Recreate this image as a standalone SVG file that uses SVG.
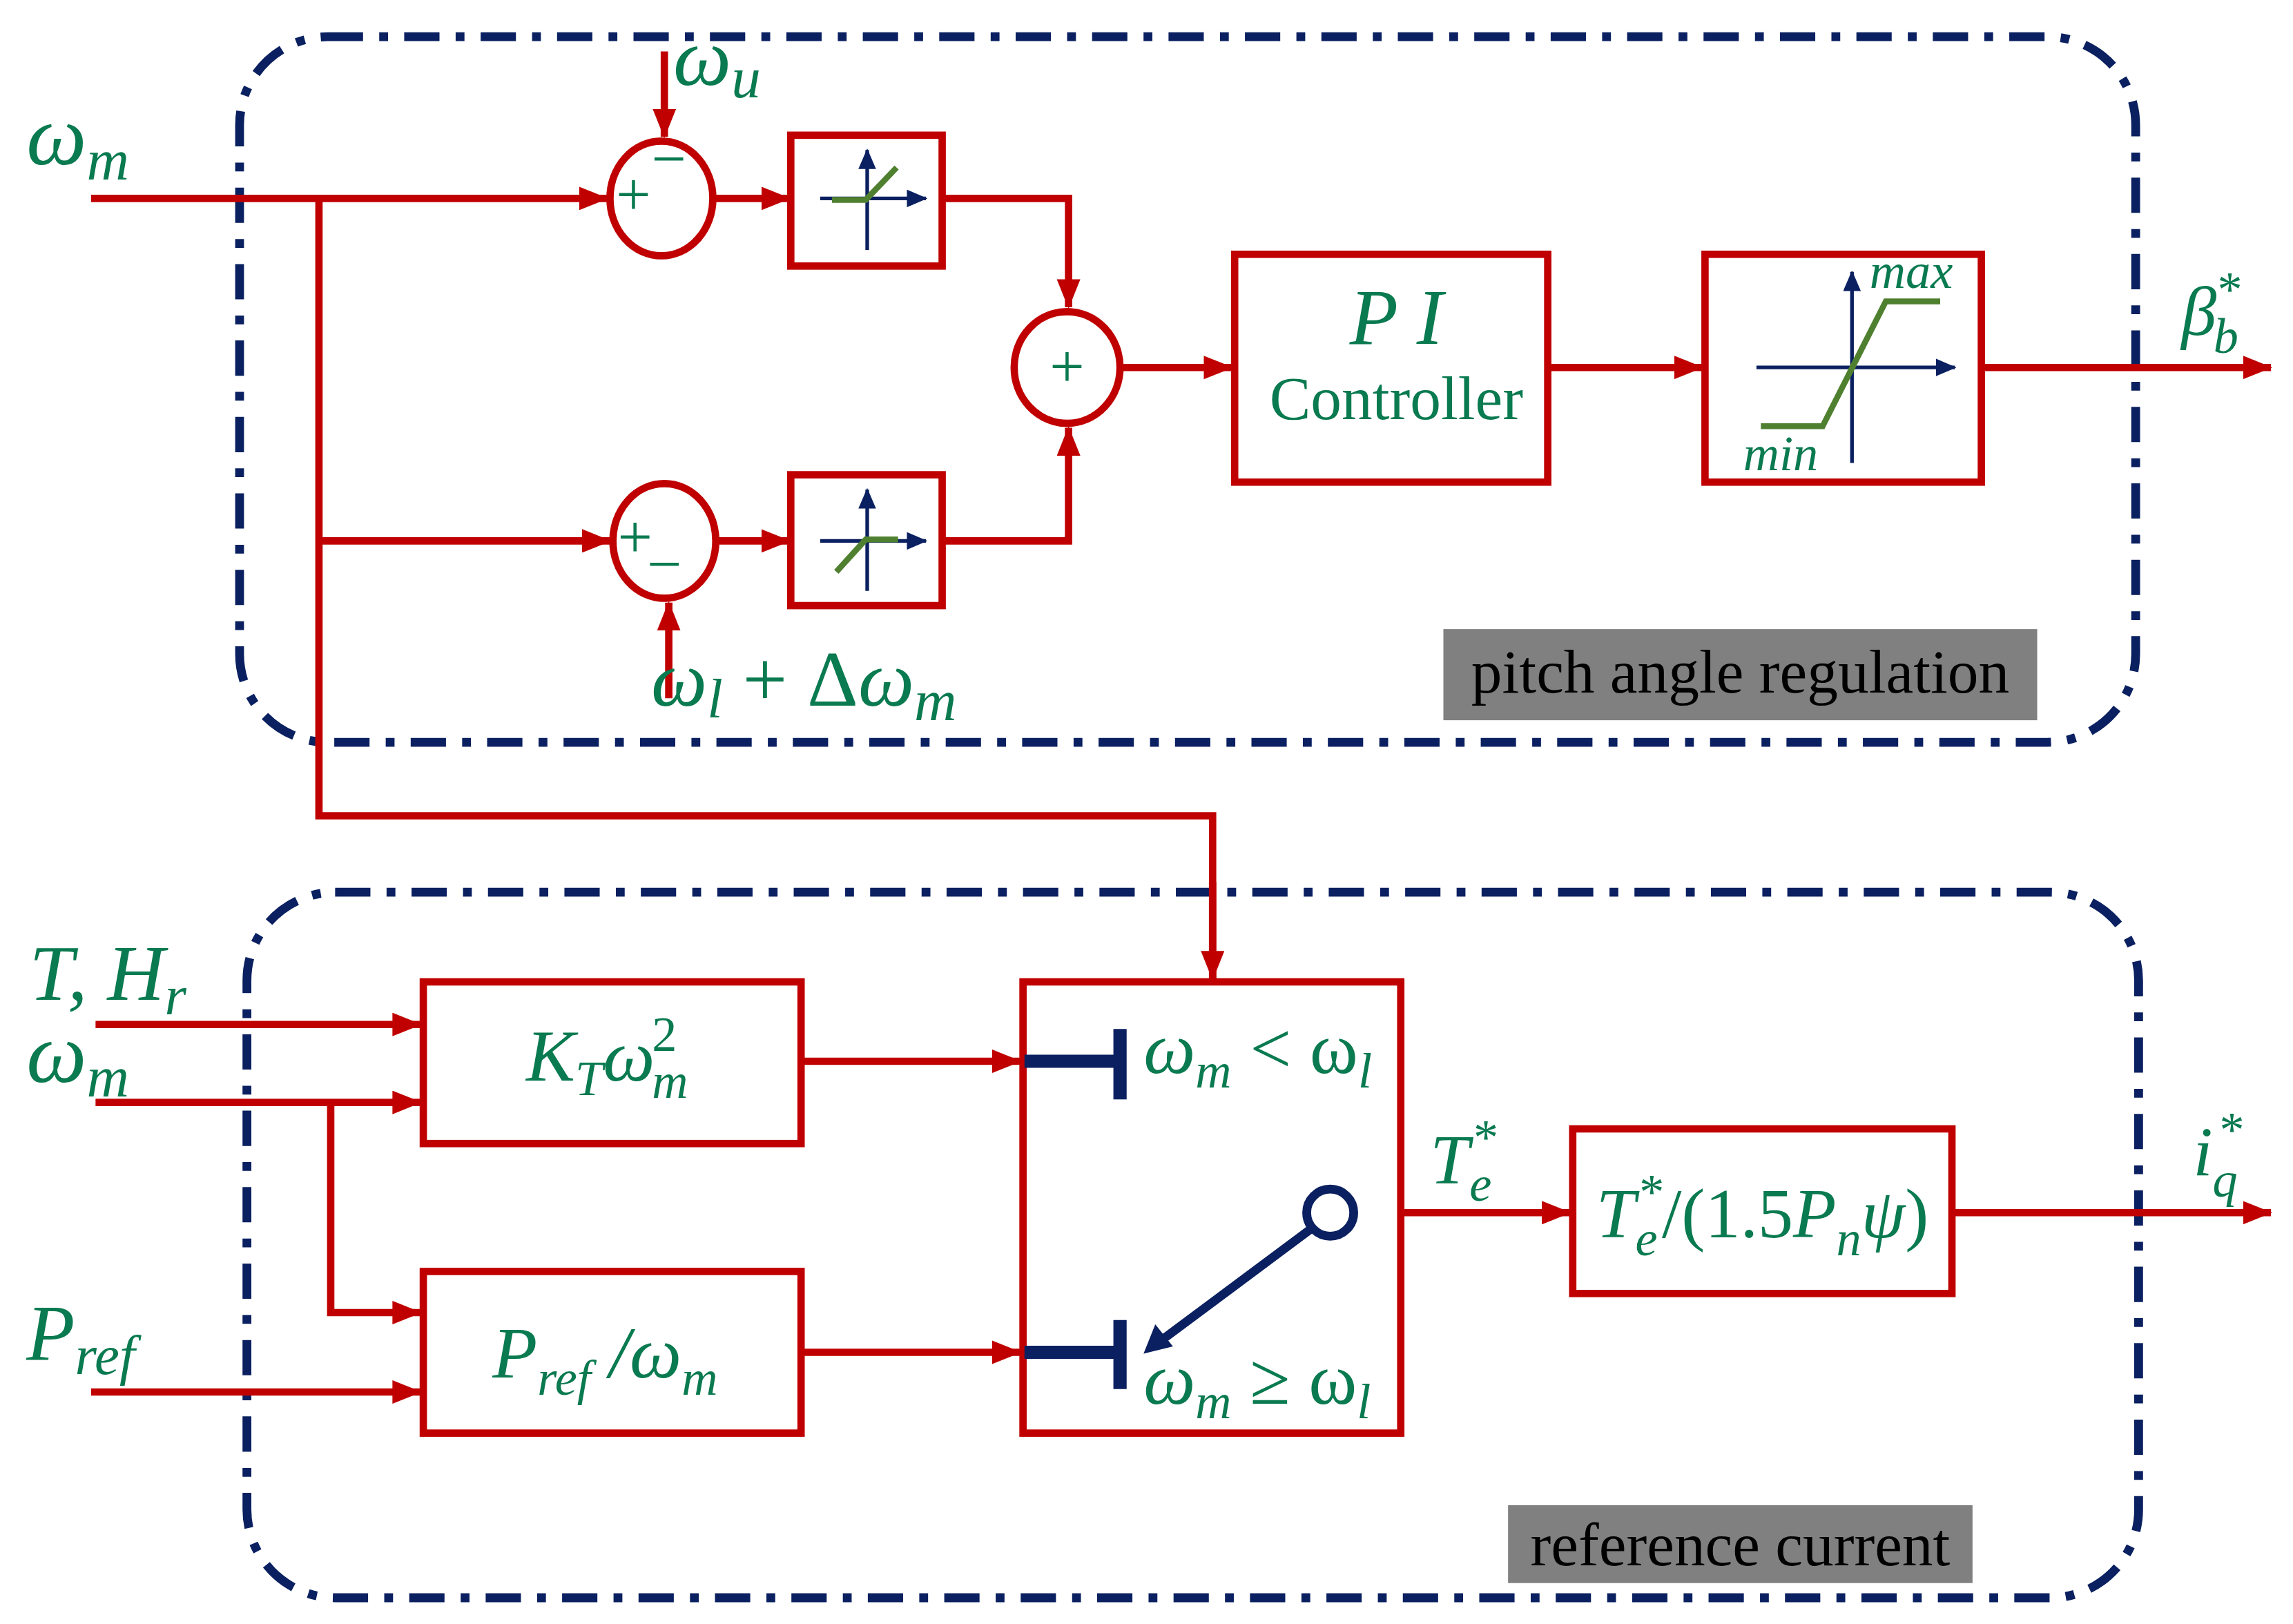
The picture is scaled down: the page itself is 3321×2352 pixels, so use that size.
<svg xmlns="http://www.w3.org/2000/svg" width="3321" height="2352" viewBox="0 0 3321 2352">
<style>
.reg{fill:none;stroke:#0a2060;stroke-width:6;stroke-dasharray:24 11 6 11}
.w{fill:none;stroke:#c00000;stroke-width:5}
.blk{fill:#fff;stroke:#c00000;stroke-width:5}
.ax{fill:none;stroke:#0a2060;stroke-width:2.5}
.gr{fill:none;stroke:#4f8030;stroke-width:4}
.m{font-family:"Liberation Serif",serif;font-style:italic;fill:#0a7a50}
.r{font-family:"Liberation Serif",serif;fill:#0a7a50}
.lab{font-family:"Liberation Serif",serif;fill:#000;font-size:42px}
.nv{fill:none;stroke:#0a2060;stroke-width:9}
</style>
<defs>
<marker id="a" markerUnits="userSpaceOnUse" markerWidth="20" markerHeight="16" refX="19" refY="8" orient="auto"><path d="M0,0 L20,8 L0,16 Z" fill="#c00000"/></marker>
<marker id="n" markerUnits="userSpaceOnUse" markerWidth="14" markerHeight="12" refX="13" refY="6" orient="auto"><path d="M0,0 L14,6 L0,12 Z" fill="#0a2060"/></marker>
</defs>
<rect width="3321" height="2352" fill="#fff"/>
<g transform="scale(2.1288)">
<g id="regions">
<rect class="reg" x="163" y="25" width="1290" height="480" rx="60"/>
<rect class="reg" x="168" y="607" width="1287" height="480" rx="60"/>
<rect x="982" y="428" width="404" height="62" fill="#808080"/>
<text class="lab" x="1184" y="471" text-anchor="middle">pitch angle regulation</text>
<rect x="1026" y="1024" width="316" height="53" fill="#808080"/>
<text class="lab" x="1184" y="1065" text-anchor="middle">reference current</text>
</g>
<g id="connectors">
<path class="w" d="M62,135 H413" marker-end="url(#a)"/>
<path class="w" d="M452,35 V93" marker-end="url(#a)"/>
<path class="w" d="M486,135 H537" marker-end="url(#a)"/>
<path class="w" d="M641,135 H727 V209" marker-end="url(#a)"/>
<path class="w" d="M217,135 V555 H825 V666"/>
<path class="w" d="M825,600 V666" marker-end="url(#a)"/>
<path class="w" d="M217,368 H415" marker-end="url(#a)"/>
<path class="w" d="M455,475 V410" marker-end="url(#a)"/>
<path class="w" d="M488,368 H537" marker-end="url(#a)"/>
<path class="w" d="M641,368 H727 V291" marker-end="url(#a)"/>
<path class="w" d="M764,250 H838" marker-end="url(#a)"/>
<path class="w" d="M1053,250 H1158" marker-end="url(#a)"/>
<path class="w" d="M1348,250 H1545" marker-end="url(#a)"/>
<path class="w" d="M65,697 H286" marker-end="url(#a)"/>
<path class="w" d="M65,750 H286" marker-end="url(#a)"/>
<path class="w" d="M225,750 V893 H286" marker-end="url(#a)"/>
<path class="w" d="M62,947 H286" marker-end="url(#a)"/>
<path class="w" d="M545,722 H694" marker-end="url(#a)"/>
<path class="w" d="M545,920 H694" marker-end="url(#a)"/>
<path class="w" d="M953,825 H1068" marker-end="url(#a)"/>
<path class="w" d="M1328,825 H1545" marker-end="url(#a)"/>
</g>
<g id="labels">
<text class="m" x="18" y="112" font-size="58">ω<tspan dy="10" font-size="40">m</tspan></text>
<text class="m" x="458" y="58" font-size="56">ω<tspan dy="8" font-size="40">u</tspan></text>
<text class="m" x="443" y="480" font-size="54">ω<tspan dy="8" font-size="38">l</tspan><tspan dy="-8" font-style="normal"> + Δ</tspan><tspan>ω</tspan><tspan dy="10" font-size="40">m</tspan></text>
<text class="m" x="1484" y="228" font-size="48">β<tspan dx="-2" dy="12" font-size="34">b</tspan><tspan dx="-16" dy="-32" font-size="34">*</tspan></text>
<text class="m" x="20" y="680" font-size="54">T, H<tspan dy="10" font-size="38">r</tspan></text>
<text class="m" x="18" y="736" font-size="58">ω<tspan dy="10" font-size="40">m</tspan></text>
<text class="m" x="18" y="925" font-size="54">P<tspan dy="10" font-size="38">ref</tspan></text>
<text class="m" x="973" y="805" font-size="48">T<tspan dy="12" font-size="34">e</tspan><tspan dx="-14" dy="-32" font-size="34">*</tspan></text>
<text class="m" x="1492" y="800" font-size="48">i<tspan dy="14" font-size="34">q</tspan><tspan dx="-14" dy="-34" font-size="34">*</tspan></text>
</g>
<g id="sum1">
<ellipse class="blk" cx="450" cy="135" rx="35" ry="39"/>
<text class="r" x="431" y="146" font-size="42" text-anchor="middle">+</text>
<text class="r" x="455" y="122" font-size="42" text-anchor="middle">−</text>
</g>
<g id="sum2">
<ellipse class="blk" cx="452" cy="368" rx="35" ry="39"/>
<text class="r" x="432" y="379" font-size="42" text-anchor="middle">+</text>
<text class="r" x="452" y="398" font-size="42" text-anchor="middle">−</text>
</g>
<g id="sum3">
<ellipse class="blk" cx="726" cy="250" rx="36" ry="38"/>
<text class="r" x="726" y="263" font-size="42" text-anchor="middle">+</text>
</g>
<g id="deadzone1">
<rect class="blk" x="538" y="92" width="103" height="89"/>
<path class="ax" d="M558,135 H630" marker-end="url(#n)"/>
<path class="ax" d="M590,170 V102" marker-end="url(#n)"/>
<path class="gr" d="M566,136 H589 L610,114"/>
</g>
<g id="deadzone2">
<rect class="blk" x="538" y="323" width="103" height="89"/>
<path class="ax" d="M558,368 H630" marker-end="url(#n)"/>
<path class="ax" d="M590,402 V333" marker-end="url(#n)"/>
<path class="gr" d="M569,389 L589,367 H611"/>
</g>
<g id="pi">
<rect class="blk" x="840" y="173" width="213" height="155"/>
<text class="m" x="950" y="234" font-size="54" text-anchor="middle">P I</text>
<text class="r" x="950" y="285" font-size="42" text-anchor="middle">Controller</text>
</g>
<g id="saturation">
<rect class="blk" x="1160" y="173" width="188" height="155"/>
<path class="ax" d="M1195,250 H1330" marker-end="url(#n)"/>
<path class="ax" d="M1260,315 V185" marker-end="url(#n)"/>
<path class="gr" d="M1198,290 H1240 L1283,205 H1320"/>
<text class="m" x="1272" y="196" font-size="34">max</text>
<text class="m" x="1186" y="320" font-size="34">min</text>
</g>
<g id="kt">
<rect class="blk" x="288" y="668" width="257" height="110"/>
<text class="m" x="358" y="735" font-size="50">K<tspan dy="10" font-size="34">T</tspan><tspan dy="-10">ω</tspan><tspan dx="-2" dy="-20" font-size="34" font-style="normal">2</tspan><tspan dx="-17" dy="32" font-size="34">m</tspan></text>
</g>
<g id="pref">
<rect class="blk" x="288" y="865" width="257" height="110"/>
<text class="m" x="335" y="937" font-size="50">P<tspan dy="12" font-size="34">ref</tspan><tspan dy="-12"> /ω</tspan><tspan dy="12" font-size="34">m</tspan></text>
</g>
<g id="switch">
<rect class="blk" x="696" y="668" width="257" height="307"/>
<path class="nv" d="M697,722 H762 M762,700 V748 M697,920 H762 M762,898 V945"/>
<text class="m" x="778" y="730" font-size="50">ω<tspan dy="10" font-size="34">m</tspan><tspan dy="-10" font-style="normal"> &lt; ω</tspan><tspan dy="10" font-size="34">l</tspan></text>
<text class="m" x="778" y="955" font-size="50">ω<tspan dy="10" font-size="34">m</tspan><tspan dy="-10" font-style="normal"> ≥ ω</tspan><tspan dy="10" font-size="34">l</tspan></text>
<circle cx="905" cy="825" r="16" fill="none" stroke="#0a2060" stroke-width="6"/>
<path d="M892,836 L790,912" stroke="#0a2060" stroke-width="6" fill="none"/>
<path d="M778,921 L786,901 L798,916 Z" fill="#0a2060"/>
</g>
<g id="iq">
<rect class="blk" x="1070" y="768" width="258" height="112"/>
<text class="m" x="1199" y="842" font-size="48" text-anchor="middle">T<tspan dy="12" font-size="34">e</tspan><tspan dx="-14" dy="-32" font-size="34">*</tspan><tspan dy="20" font-style="normal">/(1.5</tspan><tspan>P</tspan><tspan dy="12" font-size="34">n</tspan><tspan dy="-12">ψ</tspan><tspan font-style="normal">)</tspan></text>
</g>
</g>
</svg>
